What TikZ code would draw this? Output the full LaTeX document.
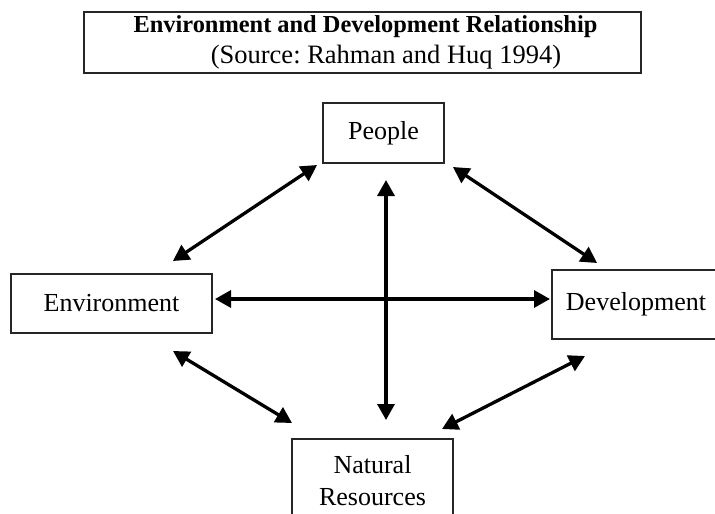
\documentclass[tikz,border=0pt]{standalone}
\usepackage{fontspec}
\setmainfont{Liberation Serif}
\usetikzlibrary{arrows.meta}
\frenchspacing
\begin{document}
\begin{tikzpicture}[x=1pt,y=-1pt,
  box/.style={draw=black!85, line width=2pt, inner sep=0pt, font=\fontsize{26}{32}\selectfont, align=center},
  link/.style={line width=3.3pt, {Triangle[length=16pt,width=17pt]}-{Triangle[length=16pt,width=17pt]}}]
\useasboundingbox (0,0) rectangle (715,514);
\begin{scope}
\clip (0,0) rectangle (715,514);
% title
\node[box, minimum width=557pt, minimum height=61pt] (title) at (362.5,42.5) {};
\node[font=\fontsize{24.4}{31}\selectfont\bfseries, anchor=base] (t1) at (365.5,32) {Environment and Development Relationship};
\node[font=\fontsize{26.5}{31}\selectfont, anchor=base] (t2) at (386,63) {(Source: Rahman and Huq 1994)};
% boxes
\node[box, minimum width=121pt, minimum height=60pt] (people) at (383.5,133) {People};
\node[box, minimum width=201pt, minimum height=59pt] (env) at (111.5,303.5) {Environment};
\node[box, minimum width=168pt, minimum height=69pt] (dev) at (636,304.5) {Development};
\node[box, minimum width=161pt, minimum height=84pt] (nat) at (372.5,481) {Natural\\Resources};
\end{scope}
% arrow tips
\coordinate (pv) at (386,180);
\coordinate (nv) at (386,420);
\coordinate (eh) at (215,299);
\coordinate (dh) at (550,299);
\coordinate (pe) at (317,165);
\coordinate (ep) at (173,261);
\coordinate (pd) at (453,167);
\coordinate (dp) at (597,263);
\coordinate (en) at (173,351);
\coordinate (ne) at (292,423);
\coordinate (dn) at (585,356);
\coordinate (nd) at (442,429);
\draw[link] (pv) -- (nv);
\draw[link] (eh) -- (dh);
\draw[link] (pe) -- (ep);
\draw[link] (pd) -- (dp);
\draw[link] (en) -- (ne);
\draw[link] (dn) -- (nd);
\end{tikzpicture}
\end{document}
